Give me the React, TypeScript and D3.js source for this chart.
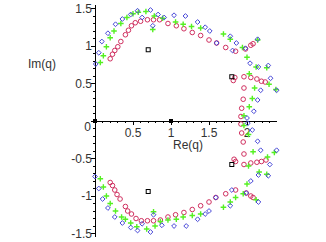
import React from 'react'
import * as d3 from 'd3'

// roots in the complex plane, [Re, Im]
const redRoots: [number, number][] = [
  [0.20, 0.83], [0.23, 0.89], [0.26, 0.94], [0.30, 0.99], [0.34, 1.06], [0.40, 1.15],
  [0.44, 1.21], [0.48, 1.27], [0.53, 1.31], [0.60, 1.33], [0.69, 1.35], [0.77, 1.35],
  [0.85, 1.35], [0.96, 1.30], [1.07, 1.27], [1.17, 1.23], [1.28, 1.18], [1.39, 1.14],
  [1.50, 1.08], [1.60, 1.04], [1.72, 0.98], [1.85, 0.93], [1.98, 0.96], [2.05, 1.01],
  [2.08, 1.03], [1.82, 0.54], [1.84, 0.58], [1.96, 0.59], [2.05, 0.58], [2.13, 0.56],
  [2.19, 0.53], [2.24, 0.52], [1.96, 0.44], [1.95, 0.29], [1.93, 0.17], [1.92, 0.06],
  [0.20, -0.82], [0.23, -0.86], [0.26, -0.92], [0.29, -0.98], [0.33, -1.04], [0.40, -1.14],
  [0.43, -1.20], [0.48, -1.24], [0.54, -1.30], [0.61, -1.33], [0.69, -1.33], [0.77, -1.33],
  [0.86, -1.32], [0.96, -1.28], [1.06, -1.25], [1.17, -1.22], [1.28, -1.18], [1.39, -1.13],
  [1.50, -1.08], [1.59, -1.02], [1.72, -0.97], [1.85, -0.92], [1.99, -0.96], [2.05, -1.0],
  [2.08, -1.02], [1.83, -0.51], [1.85, -0.54], [1.96, -0.58], [2.05, -0.56], [2.13, -0.55],
  [2.19, -0.54], [2.25, -0.52], [1.96, -0.44], [1.95, -0.28], [1.93, -0.16], [1.92, -0.04],
]

const greenRoots: [number, number][] = [
  [0.07, 0.78], [0.11, 0.87], [0.15, 0.99], [0.20, 1.11], [0.25, 1.20], [0.34, 1.30],
  [0.42, 1.38], [0.50, 1.43], [0.57, 1.45], [0.67, 1.46], [0.78, 1.40], [0.76, 1.22],
  [0.89, 1.37], [1.06, 1.32], [1.16, 1.29], [1.27, 1.26], [1.39, 1.24], [1.69, 1.16],
  [1.78, 1.09], [1.94, 0.98], [2.14, 1.08], [2.00, 0.85], [2.03, 0.63], [2.12, 0.72],
  [2.26, 0.71], [2.29, 0.49], [2.38, 0.42], [2.10, 0.44], [2.07, 0.30], [2.03, 0.19],
  [1.96, 0.07],
  [0.07, -0.77], [0.11, -0.88], [0.15, -1.0], [0.20, -1.10], [0.27, -1.20], [0.35, -1.28],
  [0.40, -1.31], [0.47, -1.36], [0.55, -1.41], [0.68, -1.44], [0.77, -1.21], [0.79, -1.40],
  [0.86, -1.34], [0.96, -1.32], [1.07, -1.31], [1.16, -1.28], [1.28, -1.26], [1.39, -1.24],
  [1.69, -1.15], [1.78, -1.08], [1.85, -1.02], [1.95, -0.97], [2.12, -1.05], [2.00, -0.84],
  [2.02, -0.60], [2.16, -0.68], [2.26, -0.71], [2.27, -0.48], [2.36, -0.42], [2.08, -0.41],
  [2.02, -0.18], [1.96, -0.06],
]

const blueRoots: [number, number][] = [
  [0.01, 0.76], [0.05, 0.91], [0.09, 1.06], [0.17, 1.17], [0.27, 1.29], [0.36, 1.36],
  [0.47, 1.42], [0.56, 1.47], [0.62, 1.38], [0.73, 1.48], [0.76, 1.27], [0.83, 1.42],
  [0.91, 1.38], [1.04, 1.41], [1.19, 1.40], [1.35, 1.32], [1.45, 1.25], [1.51, 1.20],
  [1.60, 1.04], [1.78, 1.13], [1.86, 1.04], [1.81, 0.94], [1.98, 0.97], [2.14, 1.09],
  [2.04, 0.77], [2.15, 0.72], [2.28, 0.74], [2.31, 0.57], [2.39, 0.41], [2.18, 0.41],
  [2.14, 0.28], [2.09, 0.13], [2.00, 0.04],
  [0.00, -0.74], [0.05, -0.90], [0.10, -1.04], [0.17, -1.16], [0.26, -1.28], [0.36, -1.36],
  [0.47, -1.42], [0.56, -1.46], [0.62, -1.37], [0.73, -1.48], [0.77, -1.25], [0.88, -1.39],
  [1.04, -1.40], [1.20, -1.40], [1.35, -1.31], [1.45, -1.24], [1.50, -1.20], [1.59, -1.02],
  [1.78, -1.13], [1.80, -0.92], [1.99, -0.96], [2.15, -1.08], [2.05, -0.80], [2.15, -0.72],
  [2.28, -0.73], [2.30, -0.58], [2.39, -0.39], [2.18, -0.39], [2.14, -0.27], [2.07, -0.12],
  [2.01, -0.03],
]

const squareRoots: [number, number][] = [
  [0.70, 0.95], [1.80, 0.59], [0.70, -0.94], [1.80, -0.58],
]

const axisRoots: [number, number][] = [[0, 0], [1, 0]]

const xTickLabels = ['0.5', '1', '1.5', '2']
const yTickLabels = ['-1.5', '-1', '-0.5', '0.5', '1', '1.5']

const width = 326
const height = 242
const font = 'Liberation Sans, Arial, sans-serif'
const textColor = '#333'

export default function App(): React.ReactElement {
  const x = d3.scaleLinear().domain([0, 2.4]).range([95, 277.4])
  const y = d3.scaleLinear().domain([-1.55, 1.55]).range([237.25, 4.75])

  const xMinor = d3.range(1, 24).map((i) => i / 10)
  const yMinor = d3.range(-15, 16).map((i) => i / 10)
  const isMajor = (v: number) => Math.abs(v * 2 - Math.round(v * 2)) < 1e-6

  return (
    <svg
      width={width}
      height={height}
      viewBox={`0 0 ${width} ${height}`}
      style={{ position: 'absolute', left: 0, top: 0, background: '#fff' }}
    >
      {/* axes */}
      <g stroke="#000" strokeWidth={1} shapeRendering="crispEdges">
        <line x1={x(0)} x2={x(2.4)} y1={y(0)} y2={y(0)} />
        <line x1={x(0)} x2={x(0)} y1={y(1.55)} y2={y(-1.55)} />
        {xMinor.map((v) => (
          <line key={'xt' + v} x1={x(v)} x2={x(v)} y1={y(0)} y2={y(0) + (isMajor(v) ? 4 : 2)} />
        ))}
        {yMinor.map((v) => (
          <line key={'yt' + v} x1={x(0)} x2={x(0) - (isMajor(v) ? 4 : 2)} y1={y(v)} y2={y(v)} />
        ))}
      </g>

      <g fontFamily={font} fontSize={12} fill={textColor}>
        {xTickLabels.map((t) => (
          <text key={'xl' + t} x={x(+t)} y={y(0) + 16} textAnchor="middle">
            {t}
          </text>
        ))}
        {yTickLabels.map((t) => (
          <text key={'yl' + t} x={x(0) - 3} y={y(+t) + 4} textAnchor="end">
            {t}
          </text>
        ))}
        <text x={x(0) - 4} y={y(0) + 10} textAnchor="end">0</text>
        <text x={28} y={68}>Im(q)</text>
        <text x={173} y={149}>Re(q)</text>
      </g>

      {/* root markers */}
      <g fill="none" stroke="#d03060" strokeWidth={1}>
        {redRoots.map((d, i) => (
          <circle key={'r' + i} cx={x(d[0])} cy={y(d[1])} r={2.3} />
        ))}
      </g>
      <g fill="none" stroke="#55f022" strokeWidth={1.4}>
        {greenRoots.map((d, i) => (
          <path key={'g' + i} d={`M${x(d[0]) - 2.8},${y(d[1])}h5.6M${x(d[0])},${y(d[1]) - 2.8}v5.6`} />
        ))}
      </g>
      <g fill="none" stroke="#4848d8" strokeWidth={1}>
        {blueRoots.map((d, i) => {
          const cx = x(d[0])
          const cy = y(d[1])
          return (
            <path key={'b' + i} d={`M${cx},${cy - 2.4}L${cx + 2.4},${cy}L${cx},${cy + 2.4}L${cx - 2.4},${cy}Z`} />
          )
        })}
      </g>
      <g fill="none" stroke="#000" strokeWidth={1}>
        {squareRoots.map((d, i) => (
          <rect key={'s' + i} x={x(d[0]) - 2} y={y(d[1]) - 2} width={4} height={4} />
        ))}
      </g>
      <g fill="#000">
        {axisRoots.map((d, i) => (
          <rect key={'a' + i} x={x(d[0]) - 2} y={y(d[1]) - 2} width={4} height={4} />
        ))}
      </g>
    </svg>
  )
}
